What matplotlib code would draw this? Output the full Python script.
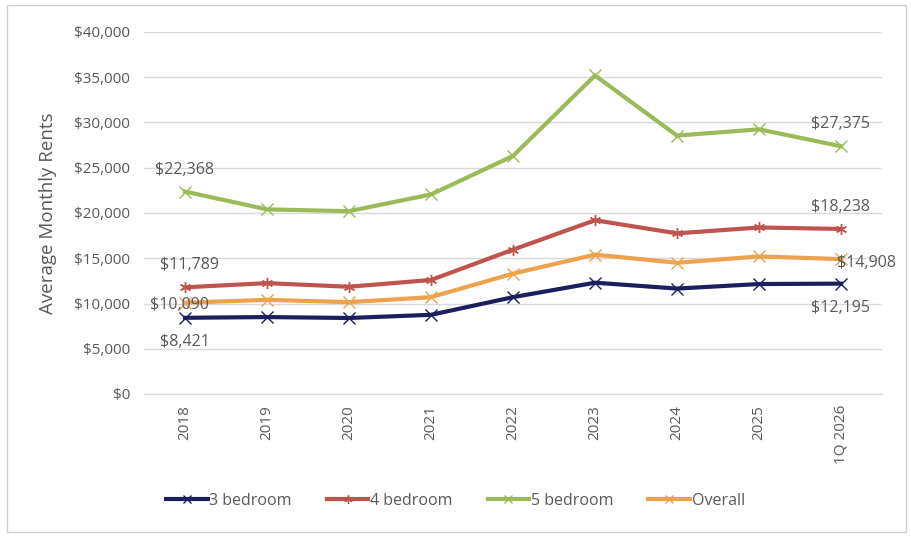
import numpy as np
import matplotlib.pyplot as plt
from matplotlib.patches import Rectangle
from matplotlib.ticker import FuncFormatter

plt.rcParams['font.family'] = ['Open Sans', 'DejaVu Sans']

# data
years = ['2018', '2019', '2020', '2021', '2022', '2023', '2024', '2025', '1Q 2026']
bed3 = [8421, 8500, 8400, 8750, 10700, 12300, 11650, 12150, 12195]
bed4 = [11789, 12250, 11850, 12600, 15950, 19200, 17750, 18400, 18238]
bed5 = [22368, 20400, 20200, 22050, 26300, 35200, 28550, 29250, 27375]
overall = [10090, 10400, 10150, 10700, 13300, 15400, 14500, 15200, 14908]

txt = '#595959'
fig = plt.figure(figsize=(9.11, 5.39), dpi=100)
fig.patches.append(Rectangle((0.008, 0.013), 0.986, 0.978, transform=fig.transFigure,
                             fill=False, edgecolor='#d0d0d0', linewidth=1))
ax = fig.add_axes([144/911, 1-394/539, 738/911, 362/539])

x = np.arange(len(years))
series = [
    (bed3, '3 bedroom', '#1c1f5e', 'x'),
    (bed4, '4 bedroom', '#bf544e', (6, 2, 0)),
    (bed5, '5 bedroom', '#9bbb59', 'x'),
    (overall, 'Overall', '#eda24e', 'x'),
]
for vals, name, col, mk in series:
    ax.plot(x, vals, color=col, linewidth=3, marker=mk, markersize=8,
            markeredgewidth=1.0, label=name, solid_joinstyle='round')

# data labels (first and last)
fs = 11.5
ax.annotate('$22,368', (0, bed5[0]), xytext=(0, 10), textcoords='offset points', ha='center', va='bottom', fontsize=fs, color=txt)
ax.annotate('$27,375', (8, bed5[-1]), xytext=(0, 10), textcoords='offset points', ha='center', va='bottom', fontsize=fs, color=txt)
ax.annotate('$11,789', (0, bed4[0]), xytext=(3, 10), textcoords='offset points', ha='center', va='bottom', fontsize=fs, color=txt)
ax.annotate('$18,238', (8, bed4[-1]), xytext=(0, 10), textcoords='offset points', ha='center', va='bottom', fontsize=fs, color=txt)
ax.annotate('$10,090', (0, overall[0]), xytext=(17, -2), textcoords='offset points', ha='right', va='center', fontsize=fs, color=txt)
ax.annotate('$14,908', (8, overall[-1]), xytext=(-3, -3), textcoords='offset points', ha='left', va='center', fontsize=fs, color=txt)
ax.annotate('$8,421', (0, bed3[0]), xytext=(0, -12), textcoords='offset points', ha='center', va='top', fontsize=fs, color=txt)
ax.annotate('$12,195', (8, bed3[-1]), xytext=(0, -12), textcoords='offset points', ha='center', va='top', fontsize=fs, color=txt)

ax.set_xlim(-0.5, 8.5)
ax.set_ylim(0, 40000)
ax.set_yticks(np.arange(0, 40001, 5000))
ax.yaxis.set_major_formatter(FuncFormatter(lambda v, p: f'${v:,.0f}'))
ax.set_xticks(x)
ax.set_xticklabels(years, rotation=90)
ax.tick_params(axis='both', length=0, labelsize=11, colors=txt)
ax.tick_params(axis='y', pad=10)
ax.tick_params(axis='x', pad=8)
ax.grid(axis='y', color='#d9d9d9', linewidth=1)
ax.set_axisbelow(True)
for s in ['top', 'right', 'left']:
    ax.spines[s].set_visible(False)
ax.spines['bottom'].set_color('#d9d9d9')
ax.set_ylabel('Average Monthly Rents', fontsize=13.5, color=txt, labelpad=12)

fig.legend(loc='center', bbox_to_anchor=(0.5, 1-501/539), ncol=4, frameon=False,
           fontsize=11.5, labelcolor=txt, handlelength=2.6, handletextpad=0.1,
           columnspacing=2.2, markerscale=0.75)

plt.savefig('out.png', dpi=100)
